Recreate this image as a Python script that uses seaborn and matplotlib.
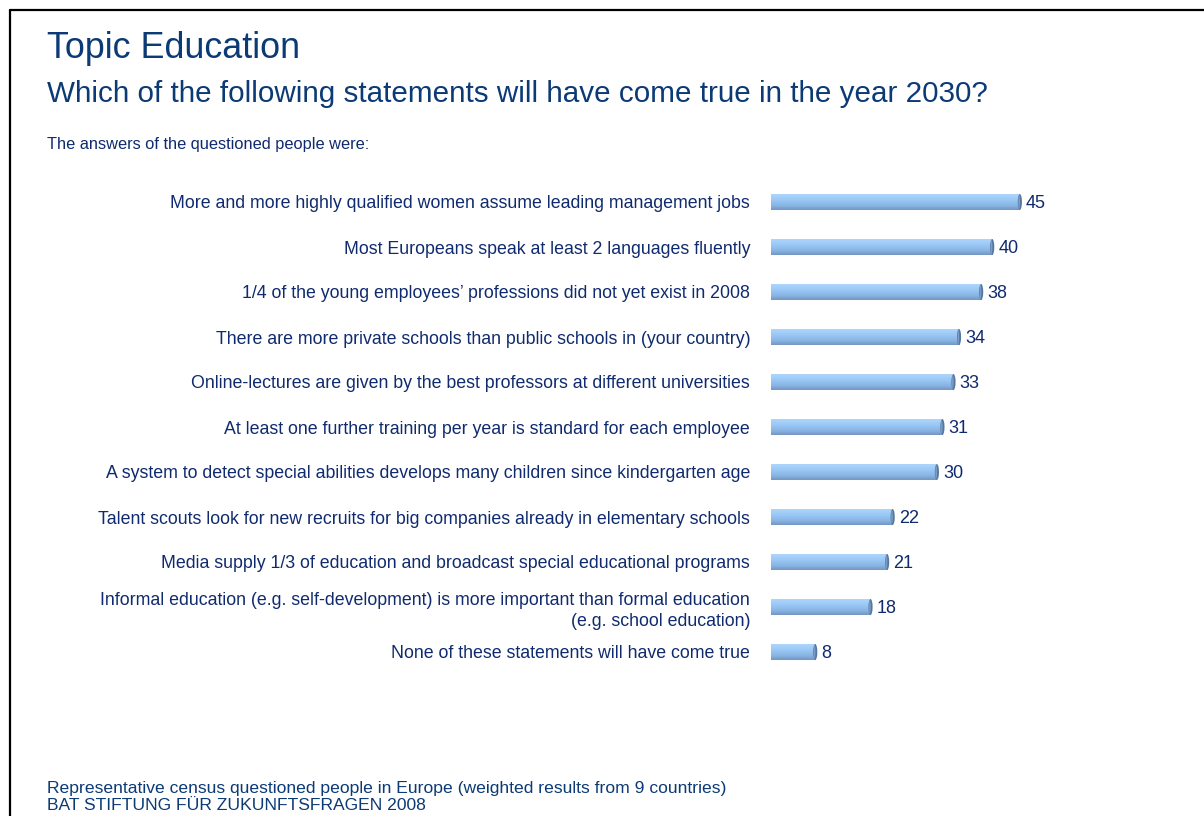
import numpy as np
import matplotlib
matplotlib.use("Agg")
import matplotlib.pyplot as plt
from matplotlib.colors import LinearSegmentedColormap
from matplotlib.patches import Ellipse
from matplotlib.lines import Line2D
import seaborn as sns
import pandas as pd

statements = [
    "More and more highly qualified women assume leading management jobs",
    "Most Europeans speak at least 2 languages fluently",
    "1/4 of the young employees\u2019 professions did not yet exist in 2008",
    "There are more private schools than public schools in (your country)",
    "Online-lectures are given by the best professors at different universities",
    "At least one further training per year is standard for each employee",
    "A system to detect special abilities develops many children since kindergarten age",
    "Talent scouts look for new recruits for big companies already in elementary schools",
    "Media supply 1/3 of education and broadcast special educational programs",
    "Informal education (e.g. self-development) is more important than formal education\n(e.g. school education)",
    "None of these statements will have come true",
]
shares = [45, 40, 38, 34, 33, 31, 30, 22, 21, 18, 8]

title = "Topic Education"
subtitle = "Which of the following statements will have come true in the year 2030?"
intro = "The answers of the questioned people were:"
footer = ["Representative census questioned people in Europe (weighted results from 9 countries)",
          "BAT STIFTUNG F\u00dcR ZUKUNFTSFRAGEN 2008"]

navy = "#0F2A6E"
title_blue = "#0B3A75"

sns.set_theme(style="white")
plt.rcParams["font.family"] = ["Liberation Sans", "DejaVu Sans"]

fig = plt.figure(figsize=(12.04, 8.16), dpi=100)
fig.patch.set_facecolor("white")
ax = fig.add_axes([771 / 1204, 1 - 674.5 / 816, 276.5 / 1204, 495 / 816])

df = pd.DataFrame({"statement": statements, "share": shares})
sns.barplot(data=df, x="share", y="statement", orient="h", color="#8DB9E8",
            width=0.36, ax=ax, saturation=1)

ax.set_xlim(0, 50)
ax.set_ylim(len(statements) - 0.5, -0.5)
ax.set_xlabel("")
ax.set_ylabel("")
ax.set_xticks([])
for s in ax.spines.values():
    s.set_visible(False)
ax.tick_params(axis="y", length=0, pad=15)
for lab in ax.get_yticklabels():
    lab.set_color(navy)
    lab.set_fontsize(12.8)
    lab.set_multialignment("right")
    lab.set_linespacing(1.3)

# shaded bar bodies with a rounded end cap
grad = LinearSegmentedColormap.from_list(
    "bar", ["#B2D8FC", "#A2CEF9", "#95C3F1", "#88B3E2", "#7496C2"])
gimg = np.linspace(0, 1, 64).reshape(-1, 1)
for patch, val in zip(ax.patches, shares):
    x0, y0 = patch.get_x(), patch.get_y()
    w, h = patch.get_width(), patch.get_height()
    patch.set_facecolor("none")
    patch.set_edgecolor("none")
    im = ax.imshow(gimg, cmap=grad, aspect="auto",
                   extent=(x0, x0 + w, y0 + h, y0), zorder=2,
                   interpolation="bilinear")
    im.set_clip_path(patch)
    ax.add_patch(Ellipse((x0 + w, y0 + h / 2), 0.75, h * 0.98,
                         facecolor="#56779F", edgecolor="none", zorder=3))
    ax.add_patch(Ellipse((x0 + w - 0.12, y0 + h / 2), 0.3, h * 0.85,
                         facecolor="#7C9CC6", edgecolor="none", zorder=3))
    ax.text(x0 + w + 1.1, y0 + h / 2 + 0.04, f"{val}", ha="left", va="center",
            fontsize=13, color=navy, zorder=4)

ax.set_xlim(0, 50)
ax.set_ylim(len(statements) - 0.5, -0.5)

# page texts
fig.text(47 / 1204, 1 - 48 / 816, title, fontsize=25.8, color=title_blue,
         ha="left", va="center")
fig.text(47 / 1204, 1 - 94 / 816, subtitle, fontsize=21.3, color=title_blue,
         ha="left", va="center")
fig.text(47 / 1204, 1 - 145 / 816, intro, fontsize=11.8, color=navy,
         ha="left", va="center")
fig.text(47 / 1204, 1 - 789 / 816, footer[0], fontsize=12.6, color=title_blue,
         ha="left", va="center")
fig.text(47 / 1204, 1 - 806 / 816, footer[1], fontsize=12.6, color=title_blue,
         ha="left", va="center")

# page frame lines
fig.add_artist(Line2D([10 / 1204, 1], [1 - 10 / 816, 1 - 10 / 816],
                      color="black", lw=1.6, transform=fig.transFigure))
fig.add_artist(Line2D([10 / 1204, 10 / 1204], [0, 1 - 10 / 816],
                      color="black", lw=1.6, transform=fig.transFigure))

fig.savefig("out.png", dpi=100, facecolor="white")
